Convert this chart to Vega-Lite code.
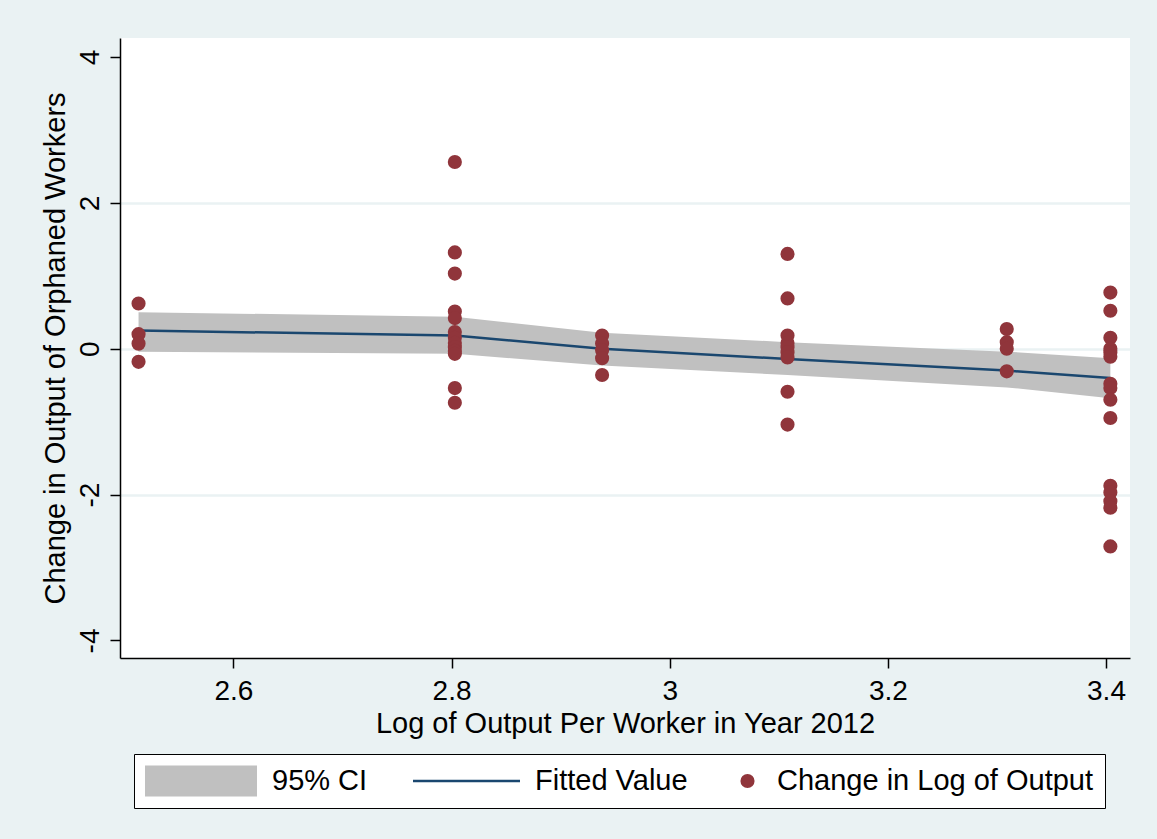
{
  "$schema": "https://vega.github.io/schema/vega-lite/v6.json",
  "width": 1010,
  "height": 620,
  "autosize": {"type": "none"},
  "padding": {"left": 120, "top": 38, "right": 27, "bottom": 181},
  "background": "#eaf2f3",
  "config": {
    "view": {"stroke": null, "fill": "white"},
    "font": "Liberation Sans",
    "axis": {
      "domainColor": "black",
      "domainWidth": 1.5,
      "tickColor": "black",
      "tickWidth": 1.5,
      "tickSize": 10,
      "labelColor": "black",
      "labelFont": "Liberation Sans",
      "labelFontSize": 28,
      "titleColor": "black",
      "titleFont": "Liberation Sans",
      "titleFontSize": 29,
      "titleFontWeight": "normal"
    },
    "legend": {
      "orient": "none",
      "legendX": 14,
      "legendY": 716,
      "direction": "horizontal",
      "padding": 11,
      "fillColor": "white",
      "strokeColor": "black",
      "labelFont": "Liberation Sans",
      "labelFontSize": 29,
      "labelColor": "black",
      "labelLimit": 0,
      "labelOffset": 15,
      "columnPadding": 45,
      "clipHeight": 32,
      "symbolStrokeWidth": 0,
      "symbolOpacity": 1
    }
  },
  "datasets": {
    "fit": [
      {"lpw": 2.513, "fitted": 0.25, "lo": -0.04, "hi": 0.50},
      {"lpw": 2.803, "fitted": 0.18, "lo": -0.07, "hi": 0.44},
      {"lpw": 2.938, "fitted": 0.00, "lo": -0.23, "hi": 0.22},
      {"lpw": 3.108, "fitted": -0.14, "lo": -0.36, "hi": 0.09},
      {"lpw": 3.309, "fitted": -0.30, "lo": -0.53, "hi": -0.04},
      {"lpw": 3.404, "fitted": -0.40, "lo": -0.68, "hi": -0.13}
    ],
    "obs": [
      {"lpw": 2.513, "change": 0.62},
      {"lpw": 2.513, "change": 0.20},
      {"lpw": 2.513, "change": 0.07},
      {"lpw": 2.513, "change": -0.18},
      {"lpw": 2.803, "change": 2.56},
      {"lpw": 2.803, "change": 1.32},
      {"lpw": 2.803, "change": 1.03},
      {"lpw": 2.803, "change": 0.51},
      {"lpw": 2.803, "change": 0.42},
      {"lpw": 2.803, "change": 0.23},
      {"lpw": 2.803, "change": 0.15},
      {"lpw": 2.803, "change": 0.08},
      {"lpw": 2.803, "change": 0.02},
      {"lpw": 2.803, "change": -0.03},
      {"lpw": 2.803, "change": -0.07},
      {"lpw": 2.803, "change": -0.54},
      {"lpw": 2.803, "change": -0.74},
      {"lpw": 2.938, "change": 0.18},
      {"lpw": 2.938, "change": 0.07},
      {"lpw": 2.938, "change": -0.02},
      {"lpw": 2.938, "change": -0.13},
      {"lpw": 2.938, "change": -0.36},
      {"lpw": 3.108, "change": 1.30},
      {"lpw": 3.108, "change": 0.69},
      {"lpw": 3.108, "change": 0.18},
      {"lpw": 3.108, "change": 0.08},
      {"lpw": 3.108, "change": 0.02},
      {"lpw": 3.108, "change": -0.05},
      {"lpw": 3.108, "change": -0.12},
      {"lpw": 3.108, "change": -0.59},
      {"lpw": 3.108, "change": -1.04},
      {"lpw": 3.309, "change": 0.27},
      {"lpw": 3.309, "change": 0.09},
      {"lpw": 3.309, "change": 0.00},
      {"lpw": 3.309, "change": -0.31},
      {"lpw": 3.404, "change": 0.77},
      {"lpw": 3.404, "change": 0.52},
      {"lpw": 3.404, "change": 0.15},
      {"lpw": 3.404, "change": 0.00},
      {"lpw": 3.404, "change": -0.05},
      {"lpw": 3.404, "change": -0.11},
      {"lpw": 3.404, "change": -0.48},
      {"lpw": 3.404, "change": -0.54},
      {"lpw": 3.404, "change": -0.70},
      {"lpw": 3.404, "change": -0.95},
      {"lpw": 3.404, "change": -1.88},
      {"lpw": 3.404, "change": -1.97},
      {"lpw": 3.404, "change": -2.09},
      {"lpw": 3.404, "change": -2.18},
      {"lpw": 3.404, "change": -2.71}
    ]
  },
  "encoding": {
    "x": {
      "field": "lpw",
      "type": "quantitative",
      "scale": {"domain": [2.496, 3.422], "nice": false, "zero": false},
      "axis": {
        "title": "Log of Output Per Worker in Year 2012",
        "values": [2.6, 2.8, 3, 3.2, 3.4],
        "labelExpr": "'' + datum.value",
        "grid": false,
        "labelPadding": 9,
        "titlePadding": 4,
        "labelFlush": false
      }
    }
  },
  "layer": [
    {
      "data": {"name": "fit"},
      "mark": {"type": "area", "opacity": 1},
      "encoding": {
        "y": {
          "field": "lo",
          "type": "quantitative",
          "scale": {"domain": [-4.24, 4.26], "nice": false, "zero": false},
          "axis": {
            "title": "Change in Output of Orphaned Workers",
            "values": [-4, -2, 0, 2, 4],
            "labelExpr": "'' + datum.value",
            "grid": true,
            "gridColor": "#eaf2f3",
            "gridWidth": 2.5,
            "gridOpacity": {"condition": {"test": "abs(datum.value) > 3", "value": 0}, "value": 1},
            "labelAngle": -90,
            "labelPadding": 6,
            "titlePadding": 6,
            "labelFlush": false
          }
        },
        "y2": {"field": "hi"},
        "color": {
          "datum": "95% CI",
          "scale": {
            "domain": ["95% CI", "Fitted Value", "Change in Log of Output"],
            "range": ["#c0c0c0", "#1a476f", "#90353b"]
          },
          "legend": {
            "title": null,
            "encode": {
              "symbols": {
                "update": {
                  "fill": {"scale": "color", "field": "value"},
                  "stroke": {"value": "transparent"},
                  "opacity": {"value": 1}
                }
              }
            }
          }
        }
      }
    },
    {
      "data": {"name": "fit"},
      "mark": {"type": "line", "strokeWidth": 2.5},
      "encoding": {
        "y": {"field": "fitted", "type": "quantitative"},
        "color": {"datum": "Fitted Value"}
      }
    },
    {
      "data": {"name": "obs"},
      "mark": {"type": "point", "filled": true, "opacity": 1},
      "encoding": {
        "y": {"field": "change", "type": "quantitative"},
        "color": {"datum": "Change in Log of Output"},
        "shape": {
          "datum": "Change in Log of Output",
          "scale": {
            "domain": ["95% CI", "Fitted Value", "Change in Log of Output"],
            "range": ["M-1,-0.277H1V0.277H-1Z", "M-1,-0.0234H1V0.0234H-1Z", "circle"]
          },
          "legend": {"title": null}
        },
        "size": {
          "datum": "Change in Log of Output",
          "scale": {
            "type": "ordinal",
            "domain": ["95% CI", "Fitted Value", "Change in Log of Output"],
            "range": [12544, 11449, 200]
          },
          "legend": {"title": null}
        }
      }
    }
  ]
}
